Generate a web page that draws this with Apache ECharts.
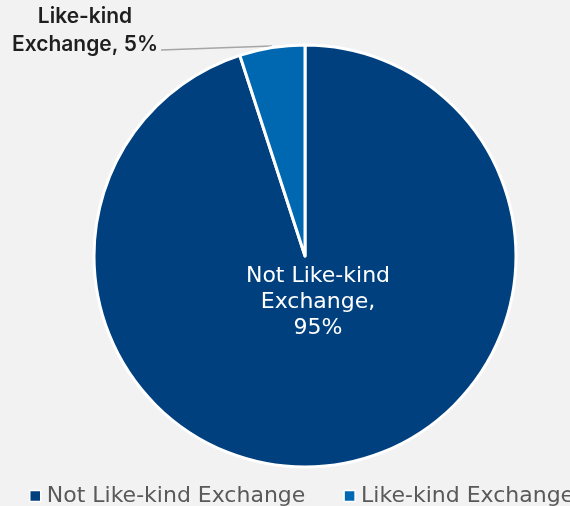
<!DOCTYPE html>
<html>
<head>
<meta charset="utf-8">
<script src="https://cdn.jsdelivr.net/npm/echarts@6/dist/echarts.min.js"></script>
<style>
  html, body { margin: 0; padding: 0; background: #f2f2f2; }
  #chart { width: 570px; height: 506px; }
</style>
</head>
<body>
<div id="chart"></div>
<script>
// Share of transactions by exchange type
const categories = ['Not Like-kind Exchange', 'Like-kind Exchange'];
const shares = [95, 5];
const labelText = ['Not Like-kind\nExchange,\n95%', 'Like-kind\nExchange, 5%'];
const colors = ['#00407f', '#0068b1'];

const FONT = '"DejaVu Sans", sans-serif';

const chart = echarts.init(document.getElementById('chart'), null, { renderer: 'canvas' });

// outer label sits top-left with a near-horizontal leader; inner label centred low in the big slice
function placeLabels(params) {
  if (params.dataIndex === 1) {
    return {
      x: 85,
      y: 31,
      align: 'center',
      verticalAlign: 'middle',
      labelLinePoints: [[272, 46], [216, 48], [161, 50]]
    };
  }
  return { x: 318, y: 302, align: 'center', verticalAlign: 'middle' };
}

chart.setOption({
  backgroundColor: '#f2f2f2',
  animation: false,
  color: colors,
  legend: {
    left: 24,
    top: 480,
    width: 900,
    icon: 'rect',
    itemWidth: 11,
    itemHeight: 11,
    itemGap: 38,
    itemStyle: { borderColor: '#ffffff', borderWidth: 1.5 },
    textStyle: { fontFamily: FONT, fontSize: 22, color: '#595959', padding: [0, 0, 0, 1] },
    data: categories
  },
  series: [{
    type: 'pie',
    center: [305, 256],
    radius: 211,
    startAngle: 90,
    clockwise: true,
    itemStyle: { borderColor: '#ffffff', borderWidth: 3 },
    label: {
      fontFamily: FONT,
      fontSize: 20,
      lineHeight: 27,
      align: 'center'
    },
    labelLine: {
      show: true,
      length: 10,
      length2: 10,
      lineStyle: { color: '#a6a6a6', width: 1.5 }
    },
    labelLayout: placeLabels,
    data: categories.map((name, i) => ({
      name: name,
      value: shares[i],
      label: i === 0
        ? { show: true, position: 'inside', formatter: labelText[i], color: '#ffffff',
            fontSize: 22, lineHeight: 26 }
        : { show: true, position: 'outside', formatter: labelText[i], color: '#1f1f1f',
            fontFamily: 'Inter, sans-serif', fontSize: 21, lineHeight: 28, fontWeight: 600 },
      labelLine: { show: i === 1 }
    }))
  }]
});
</script>
</body>
</html>
